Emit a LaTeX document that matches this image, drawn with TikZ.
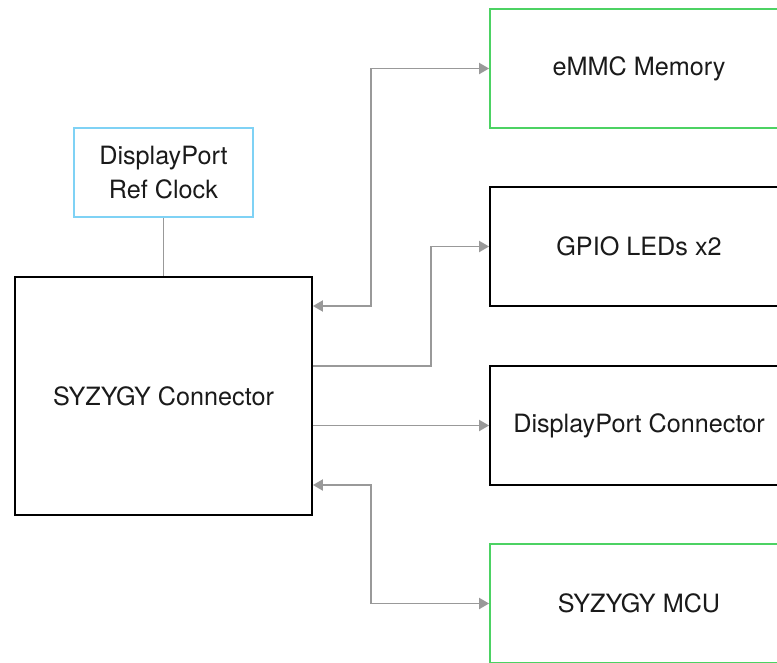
\documentclass[tikz,border=0pt]{standalone}
\usepackage{fontspec}
\setmainfont{TeX Gyre Heros}
\usetikzlibrary{arrows.meta}
\definecolor{gline}{HTML}{999999}
\definecolor{gbox}{HTML}{4CD263}
\definecolor{bbox}{HTML}{7FD2F5}
\definecolor{tcol}{HTML}{1A1A1A}
\tikzset{
  blk/.style={draw=black, line width=1.8pt, rectangle, inner sep=0pt, text=tcol,
    font=\fontsize{25.2}{34}\selectfont, align=center},
  conn/.style={draw=gline, line width=1.9pt,
    arrows={-Triangle[length=10pt,width=11pt,fill=gline]}},
  conn2/.style={draw=gline, line width=1.9pt,
    arrows={Triangle[length=10pt,width=11pt,fill=gline]-Triangle[length=10pt,width=11pt,fill=gline]}},
  plain/.style={draw=gline, line width=1.9pt},
}
\begin{document}
\begin{tikzpicture}[x=1pt,y=-1pt]
\useasboundingbox (0,0) rectangle (777,662);
\clip (0,0) rectangle (777,662);
\node[blk, minimum width=297pt, minimum height=238pt] (syz) at (163.5,396) {SYZYGY Connector};
\node[blk, draw=bbox, minimum width=179pt, minimum height=89pt] (clk) at (163.5,172.5) {DisplayPort\\Ref Clock};
\node[blk, draw=gbox, minimum width=298pt, minimum height=119pt] (emmc) at (639,68.5) {eMMC Memory};
\node[blk, minimum width=298pt, minimum height=119pt] (gpio) at (639,246.5) {GPIO LEDs x2};
\node[blk, minimum width=298pt, minimum height=119pt] (dpc) at (639,425.5) {DisplayPort Connector};
\node[blk, draw=gbox, minimum width=298pt, minimum height=119pt] (mcu) at (639,603.5) {SYZYGY MCU};
\draw[plain] (clk.south) -- (syz.north -| clk.south);
\draw[conn2] (syz.east |- 0,306) -- (371,306) |- (emmc.west);
\draw[conn] (syz.east |- 0,366) -- (431,366) |- (gpio.west);
\draw[conn] (syz.east |- dpc.west) -- (dpc.west);
\draw[conn2] (syz.east |- 0,485) -- (371,485) |- (mcu.west);
\end{tikzpicture}
\end{document}
